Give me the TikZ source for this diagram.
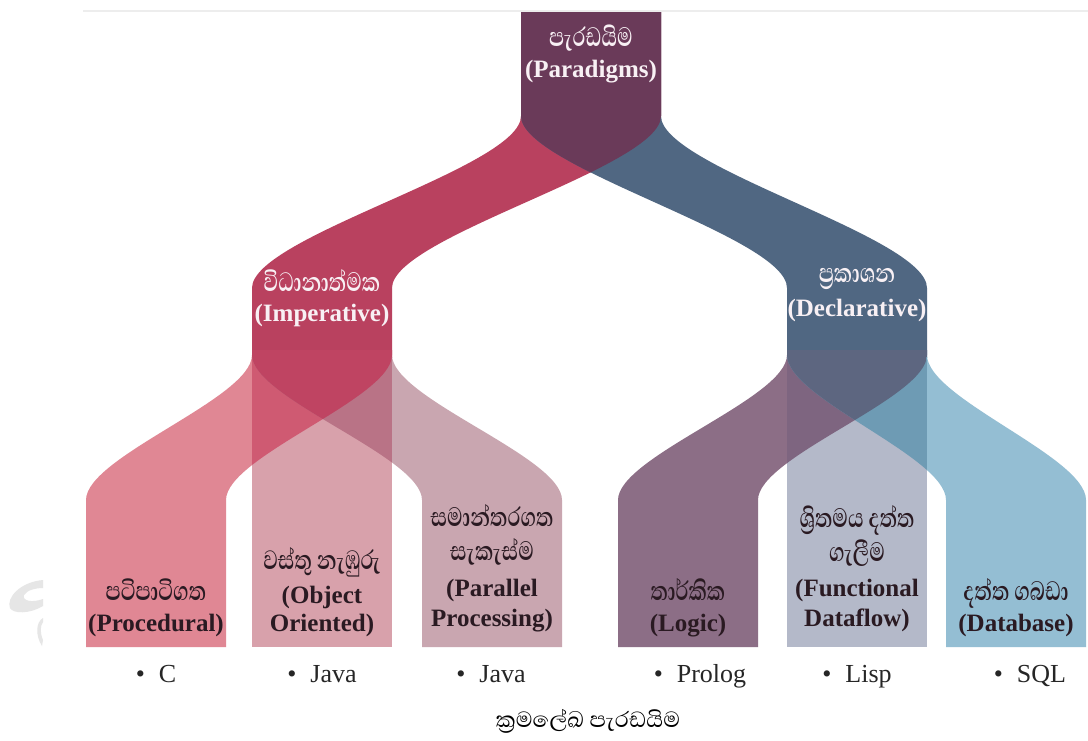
\documentclass[tikz,border=0pt]{standalone}
\usepackage{fontspec}
\setmainfont{Liberation Serif}
\newfontfamily\sinlab[Script=Sinhala,FakeStretch=0.76]{Abhaya Libre}
\newfontfamily\sincap[Script=Sinhala]{Abhaya Libre}
% Sinhala line inside a label; smashed so the Latin baselineskip rules the spacing
\newcommand\sil[1]{\smash{\sinlab\fontsize{34}{28}\selectfont #1}}

% palette
\definecolor{topPlum}{HTML}{6A3A59}
\definecolor{impRed}{HTML}{B9415F}
\definecolor{decBlue}{HTML}{506782}
\definecolor{procPink}{HTML}{E08794}
\definecolor{oopPink}{HTML}{D8A1AB}
\definecolor{parRose}{HTML}{C9A6B0}
\definecolor{procOop}{HTML}{CF5A72}
\definecolor{parOop}{HTML}{B97386}
\definecolor{procPar}{HTML}{BF4462}
\definecolor{logMauve}{HTML}{8C6E86}
\definecolor{funGrey}{HTML}{B4B9C9}
\definecolor{dbBlue}{HTML}{94BED3}
\definecolor{logFun}{HTML}{7E6580}
\definecolor{dbFun}{HTML}{6E9BB4}
\definecolor{logDb}{HTML}{5D6680}
\definecolor{darkText}{HTML}{2A1A22}
\definecolor{lightText}{HTML}{F8F0F4}
\definecolor{wmGrey}{HTML}{E6E6E6}

% a vertical band that bends sideways with an S-curve:
% #1 x at top, #2 top y, #3 y where the bend starts, #4 x after the bend,
% #5 y where the bend ends, #6 bottom y, #7 band width
\newcommand\ribbon[7]{%
  (#1,#2) -- (#1,#3)
  .. controls (#1,{#3+0.3*(#5-#3)}) and (#4,{#5-0.3*(#5-#3)}) .. (#4,#5)
  -- (#4,#6) -- ({#4+#7},#6) -- ({#4+#7},#5)
  .. controls ({#4+#7},{#5-0.3*(#5-#3)}) and ({#1+#7},{#3+0.3*(#5-#3)}) .. ({#1+#7},#3)
  -- ({#1+#7},#2) -- cycle}

\newcommand\redRib{\ribbon{521}{12}{116}{252}{288}{358}{140}}
\newcommand\blueRib{\ribbon{521}{12}{116}{787}{288}{358}{140}}
\newcommand\procRib{\ribbon{252}{350}{355}{86}{500}{647}{140}}
\newcommand\oopCol{(252,350) rectangle (392,647)}
\newcommand\parRib{\ribbon{252}{350}{355}{422}{500}{647}{140}}
\newcommand\logRib{\ribbon{787}{350}{355}{618}{500}{647}{140}}
\newcommand\funCol{(787,350) rectangle (927,647)}
\newcommand\dbRib{\ribbon{787}{350}{355}{946}{500}{647}{140}}

\tikzset{
  lab/.style={align=center, inner sep=0pt, anchor=south,
    font=\fontsize{25}{28}\selectfont\bfseries},
  light/.style={lab, text=lightText},
  dark/.style={lab, text=darkText},
  item/.style={font=\fontsize{26}{30}\selectfont, text=black!85,
    inner sep=0pt, anchor=base},
}

\begin{document}
\begin{tikzpicture}[x=1pt, y=-1pt]
\useasboundingbox (0,0) rectangle (1088,740);
\fill[white] (0,0) rectangle (1088,740);
\draw[black!7, line width=1.2pt] (83,11) -- (1088,11);

% faint mark at the left edge
\fill[wmGrey] (43,580) .. controls (20,582) and (6,598) .. (10,608)
  .. controls (13,614) and (30,614) .. (43,606) -- (43,599)
  .. controls (32,603) and (22,601) .. (24,595)
  .. controls (27,590) and (36,588) .. (43,588) -- cycle;
\fill[wmGrey] (43,618) .. controls (36,622) and (35,635) .. (42,646)
  -- (43,640) .. controls (40,633) and (40,626) .. (43,622) -- cycle;

% first split: imperative and declarative
\fill[impRed] \redRib;
\fill[decBlue] \blueRib;
\begin{scope}
  \clip \redRib;
  \fill[topPlum] \blueRib;
\end{scope}

% imperative family
\fill[procPink] \procRib;
\fill[parRose] \parRib;
\fill[oopPink] \oopCol;
\begin{scope}
  \clip \procRib;
  \fill[procOop] \oopCol;
\end{scope}
\begin{scope}
  \clip \parRib;
  \fill[parOop] \oopCol;
\end{scope}
\begin{scope}
  \clip \procRib;
  \clip \parRib;
  \fill[procPar] \oopCol;
\end{scope}

% declarative family
\fill[logMauve] \logRib;
\fill[dbBlue] \dbRib;
\fill[funGrey] \funCol;
\begin{scope}
  \clip \logRib;
  \fill[logFun] \funCol;
\end{scope}
\begin{scope}
  \clip \dbRib;
  \fill[dbFun] \funCol;
\end{scope}
\begin{scope}
  \clip \logRib;
  \clip \dbRib;
  \fill[logDb] \funCol;
\end{scope}

% labels
\node[light] (paradigm) at (591,83) {\sil{පැරඩයිම}\\[3pt](Paradigms)};
\node[light] (imper) at (322,327) {\sil{විධානාත්මක}\\[2pt](Imperative)};
\node[light] (decl) at (857,322) {\sil{ප්^^^^200dරකාශන}\\[6pt](Declarative)};

\node[dark] (proc) at (156,637) {\sil{පටිපාටිගත}\\[3pt](Procedural)};
\node[dark] (oop) at (322,637) {\sil{වස්තු නැඹුරු}\\[6pt](Object\\Oriented)};
\node[dark] (par) at (492,632) {\sil{සමාන්තරගත}\\[6pt]\sil{සැකැස්ම}\\[8pt](Parallel\\[2pt]Processing)};
\node[dark] (logic) at (688,637) {\sil{තාර්කික}\\[3pt](Logic)};
\node[dark] (func) at (857,632) {\sil{ශ්^^^^200dරිතමය දත්ත}\\[6pt]\sil{ගැලීම}\\[7pt](Functional\\[2pt]Dataflow)};
\node[dark] (db) at (1016,637) {\sil{දත්ත ගබඩා}\\[3pt](Database)};

% example languages
\node[item] (cLang) at (156,682) {•\hspace{14pt}C};
\node[item] (javaA) at (322,682) {•\hspace{14pt}Java};
\node[item] (javaB) at (491,682) {•\hspace{14pt}Java};
\node[item] (prolog) at (700,682) {•\hspace{14pt}Prolog};
\node[item] (lisp) at (857,682) {•\hspace{14pt}Lisp};
\node[item] (sql) at (1030,682) {•\hspace{14pt}SQL};

% caption
\node[font=\sincap\fontsize{28}{32}\selectfont, inner sep=0pt] (caption)
  at (588,721) {ක්^^^^200dරමලේඛ පැරඩයිම};
\end{tikzpicture}
\end{document}
